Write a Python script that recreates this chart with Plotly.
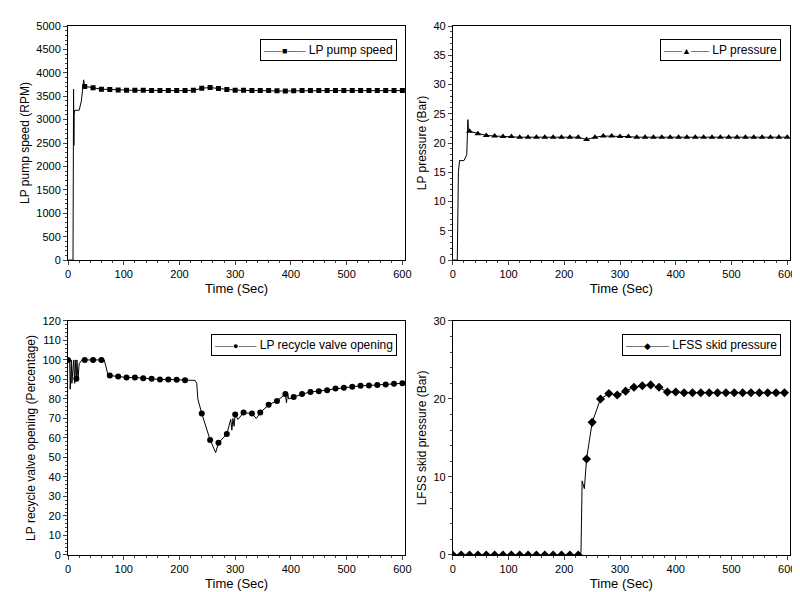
import plotly.graph_objects as go
from plotly.subplots import make_subplots

# marker times (every 15 s)
mk_t = list(range(30, 601, 15))
mk_t0 = list(range(0, 601, 15))

# LP pump speed
speed_line_t = [0, 9, 10, 10.5, 11, 12, 13, 20, 24, 28, 30, 31] + mk_t[1:]
speed_mk = [3710, 3680, 3650, 3645, 3635, 3630, 3625, 3625, 3620, 3620, 3620, 3620, 3620, 3625,
            3670, 3685, 3665, 3645, 3630, 3625, 3620, 3620, 3620, 3615, 3610, 3615, 3620, 3620,
            3620, 3620, 3620, 3620, 3620, 3620, 3620, 3620, 3620, 3620, 3620]
speed_line = [0, 0, 3650, 2450, 3100, 3200, 3200, 3200, 3400, 3850, 3720, 3710] + speed_mk[1:]

# LP pressure
pres_line_t = [0, 8, 10, 12, 20, 25, 27, 28, 30] + mk_t[1:]
pres_mk = [22.0, 21.6, 21.3, 21.2, 21.1, 21.1, 21.0, 21.0, 21.0, 21.0, 21.0, 21.0, 21.0, 21.0,
           20.6, 21.0, 21.2, 21.2, 21.1, 21.1, 21.0, 21.0, 21.0, 21.0, 21.0, 21.0, 21.0, 21.0,
           21.0, 21.0, 21.0, 21.0, 21.0, 21.0, 21.0, 21.0, 21.0, 21.0, 21.0]
pres_line = [0, 0, 15, 17, 17, 18, 24, 22.5, 22.0] + pres_mk[1:]

# LP recycle valve opening
valve_line_t = [0, 3, 4, 6, 7, 9, 10, 12, 13, 15, 16, 18, 20, 25, 30, 45, 60, 65, 72, 75, 90, 105,
                120, 135, 150, 165, 180, 195, 210, 228, 231, 233, 240, 255, 265, 270, 285, 292, 294,
                296, 298, 300, 305, 315, 330, 338, 345, 360, 375, 390, 392, 394, 396, 405, 420, 435,
                450, 465, 480, 495, 510, 525, 540, 555, 570, 585, 600]
valve_line = [100, 100, 85, 100, 88, 100, 100, 88, 100, 89, 100, 90, 98, 100, 100, 100, 100, 100,
              92, 92, 91.5, 91, 91, 90.6, 90.3, 90, 90, 89.8, 89.6, 89.5, 88, 80, 72.5, 59, 52.5,
              57.5, 62, 69.5, 64, 70, 66, 72, 69.5, 73, 72.5, 70, 73, 77, 79, 82.5, 78, 83, 80, 81,
              82.5, 83.5, 84, 84.5, 85.3, 85.8, 86.2, 86.8, 86.9, 87.2, 87.4, 87.8, 88]
valve_mk_t = list(range(0, 211, 15)) + list(range(240, 601, 15))
valve_mk = [100, 90.3, 100, 100, 100, 92, 91.5, 91, 91, 90.6, 90.3, 90, 90, 89.8, 89.6,
            72.5, 59, 57.5, 62, 72, 73, 72.5, 73, 77, 79, 82.5, 81, 82.5, 83.5, 84, 84.5, 85.3,
            85.8, 86.2, 86.8, 86.9, 87.2, 87.4, 87.8, 88]

# LFSS skid pressure
skid_line_t = [0, 229, 230, 232, 236, 240, 250, 265, 280, 295, 310, 325, 340, 355, 370, 385, 400,
               415, 430, 445, 460, 475, 490, 505, 520, 535, 550, 565, 580, 600]
skid_line = [0, 0, 0.5, 9.5, 8.5, 12.3, 17, 20, 20.7, 20.5, 21, 21.5, 21.7, 21.8, 21.5, 20.9, 20.9,
             20.8, 20.8, 20.8, 20.8, 20.8, 20.8, 20.8, 20.8, 20.8, 20.8, 20.8, 20.8, 20.8]
skid_mk_t = mk_t0[:16] + [240, 250, 265, 280, 295, 310, 325, 340, 355, 370, 385, 400, 415, 430,
                          445, 460, 475, 490, 505, 520, 535, 550, 565, 580, 595]
skid_mk = [0] * 16 + skid_line[5:]

fig = make_subplots(rows=2, cols=2, horizontal_spacing=0.066, vertical_spacing=0.115)

panels = [
    (1, 1, speed_line_t, speed_line, mk_t, speed_mk, "square", 5, "■", "LP pump speed"),
    (1, 2, pres_line_t, pres_line, mk_t, pres_mk, "triangle-up", 6, "▲", "LP pressure"),
    (2, 1, valve_line_t, valve_line, valve_mk_t, valve_mk, "circle", 6, "●", "LP recycle valve opening"),
    (2, 2, skid_line_t, skid_line, skid_mk_t, skid_mk, "diamond", 7, "◆", "LFSS skid pressure"),
]
for i, (r, c, lt, ly, mt, my, sym, sz, glyph, name) in enumerate(panels):
    fig.add_trace(go.Scatter(x=lt, y=ly, mode="lines", line=dict(color="black", width=1),
                             showlegend=False, hoverinfo="skip"), row=r, col=c)
    fig.add_trace(go.Scatter(x=mt, y=my, mode="markers", marker=dict(color="black", symbol=sym, size=sz),
                             showlegend=False), row=r, col=c)
    ax = "" if i == 0 else str(i + 1)
    dom_x = fig.layout["xaxis" + ax].domain
    dom_y = fig.layout["yaxis" + ax].domain
    fig.add_annotation(xref="paper", yref="paper", x=dom_x[1] - 0.012, y=dom_y[1] - 0.025,
                       xanchor="right", yanchor="top", showarrow=False,
                       text="<span style='font-size:9px'>——" + glyph + "——</span> " + name,
                       bgcolor="white", bordercolor="black", borderwidth=1, borderpad=3,
                       font=dict(size=12, color="black"))

axis_common = dict(showline=True, linecolor="black", linewidth=1, mirror=True, ticks="outside",
                   ticklen=4, minor=dict(ticks="outside", ticklen=2), showgrid=False, zeroline=False,
                   tickfont=dict(size=11, color="black"))
for r in (1, 2):
    for c in (1, 2):
        fig.update_xaxes(range=[0, 605], dtick=100, title_text="Time (Sec)",
                         title_font=dict(size=13, color="black"), title_standoff=4,
                         **axis_common, row=r, col=c)

fig.update_yaxes(range=[0, 5000], dtick=500, title_text="LP pump speed (RPM)", row=1, col=1, **axis_common)
fig.update_yaxes(range=[0, 40], dtick=5, title_text="LP pressure (Bar)", row=1, col=2, **axis_common)
fig.update_yaxes(range=[0, 120], dtick=10, title_text="LP recycle valve opening (Percentage)", row=2, col=1, **axis_common)
fig.update_yaxes(range=[0, 30], dtick=10, title_text="LFSS skid pressure (Bar)", row=2, col=2, **axis_common)
fig.update_yaxes(title_font=dict(size=12, color="black"), title_standoff=4)

fig.update_layout(width=800, height=592, plot_bgcolor="white", paper_bgcolor="white",
                  margin=dict(l=60, r=14, t=14, b=42),
                  font=dict(family="Liberation Sans, Arial, sans-serif", color="black"))
fig.write_html("out.html")
